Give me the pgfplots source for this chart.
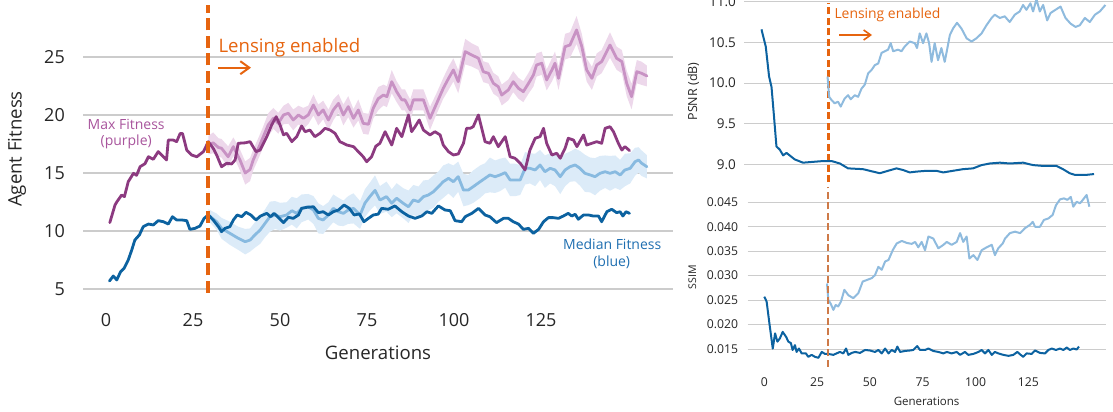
\documentclass[border=0pt]{standalone}
\usepackage{pgfplots}
\pgfplotsset{compat=1.18}
\usepackage{pgfplotstable}
\usepgfplotslibrary{fillbetween}
\usetikzlibrary{arrows.meta}
\usepackage{fontspec}
\setmainfont{Open Sans}

\definecolor{maxd}{RGB}{140,58,128}
\definecolor{maxl}{RGB}{200,146,196}
\definecolor{maxband}{RGB}{237,216,235}
\definecolor{medd}{RGB}{12,98,160}
\definecolor{medl}{RGB}{136,186,224}
\definecolor{medband}{RGB}{220,235,248}
\definecolor{rlight}{RGB}{143,187,222}
\definecolor{orng}{RGB}{230,100,15}
\definecolor{orngc}{RGB}{206,122,72}
\definecolor{gridc}{RGB}{204,204,204}
\definecolor{txt}{RGB}{38,38,38}
\definecolor{maxlab}{RGB}{168,84,156}
\definecolor{medlab}{RGB}{30,110,176}

\pgfplotstableread{
g v
1.1 10.72
2.6 12.24
3.1 12.5
4.5 13.1
5.3 12.96
6.4 14.25
7.9 14.97
8.8 14.8
9.8 15.54
11.2 15.8
12.2 16.4
13.6 16.18
15 16.84
16.5 16.4
17.4 16.12
17.9 17.84
19.3 17.84
20.3 17.7
21.3 18.4
22 18.4
23.2 16.98
24.6 16.55
26.1 16.4
28 16.84
29.4 17.7
30.8 17.13
31.8 16.55
33.2 15.54
34.7 15.84
36.1 15.78
37.1 16.12
38 17.56
40 17.6
41.4 17.7
43.1 16.84
44.3 16.98
46.2 18.13
47.6 19.14
48.9 19.85
50 19.14
51 18.28
51.9 18.42
53.4 17.7
54.8 18.13
56.2 19.05
57.2 18.56
58.6 18.7
60 18.13
61.5 18.42
62.9 18.85
64.4 18.7
65.8 18.42
67.2 17.7
69.2 17.41
71.1 17.27
72.5 16.84
73.9 16.4
74.9 15.97
76.3 16.4
77.5 17.3
78.7 17.56
80.2 18.56
82.1 17.41
83.5 18.85
85 18.13
86.9 20
87.8 18.56
88.8 18.99
90 19.57
91.2 18.7
93.1 18.28
94.5 18.56
96 18.28
96.9 17.41
98.4 16.84
99.8 16.55
101.2 16.64
102.7 17.56
103.6 18.85
104.6 18.85
105.5 18.99
107 20
108.9 17.7
110.3 17.56
111.3 18.13
112.7 17.27
114.7 18.13
116.1 16.4
117.5 16.27
119 15.84
120.4 15.26
121.8 16.98
123.3 17.99
124.7 18.13
125.7 18.85
126.6 17.56
128.1 16.55
129.5 16.7
130.5 16.27
131.9 17.13
132.8 17.99
134.3 17.84
135.3 17.27
137.2 18.28
138.1 17.41
139.6 17.56
141 17.7
142.4 17.56
143.4 18.85
144.8 18.99
145.8 18.56
147.2 17.56
148.2 16.98
149.1 17.27
150.4 16.93
}\maxdark

\pgfplotstableread{
g v e
29.4 17.4 0.8
30.8 17.6 0.9
32.3 17.2 0.8
33.2 17.13 0.8
35.1 16.4 0.9
36.6 17.27 0.8
38.5 16.12 0.9
40 15.0 1.0
41.4 15.3 1.0
42.3 16.12 0.9
43.8 17.13 0.9
45.2 18.13 0.9
46.6 19.14 1.0
48.1 19.71 0.9
49.5 19.28 0.9
51 20 0.8
52.4 20.15 0.9
53.8 19.57 0.9
55.3 20 0.8
56.7 19.71 0.9
58.1 20 0.8
59.6 20.86 0.9
61 20 0.9
62.4 20.43 0.8
63.9 19.57 0.9
65.3 20.43 0.9
66.8 21 0.8
68.2 20 0.9
69.6 20.72 0.9
71.1 19.71 0.8
72.5 20.43 0.9
73.9 19.28 0.9
75.4 19.2 0.9
76.8 20.6 0.9
78.2 21.4 1.0
79.7 21.72 0.9
80.7 21.58 0.9
82.1 22.87 1.0
83.5 22.01 0.9
85 21.3 0.9
85.9 21.3 0.9
87.4 20.43 0.9
88.3 21.3 0.9
89.8 21.3 0.9
91.2 21.3 0.9
93.1 19.71 1.0
95 21 0.9
96.9 22.3 0.9
98.5 23.2 1.0
99.8 23.88 1.0
101.2 22.87 1.0
103.2 25.46 1.1
105.1 25.17 1.0
107 24.89 1.0
108.4 23.73 0.9
109.9 23.59 0.9
111.3 22.73 0.9
112.7 22.44 0.9
113.7 21.72 0.9
115.6 22.16 0.9
117 22.87 0.9
118.5 22.3 0.9
119.9 22.01 0.9
121.4 22.73 0.9
122.8 23.45 1.0
123.7 24.31 1.0
125.2 24.46 1.0
126.6 23.02 0.9
128.1 23.88 1.0
129 24.46 1.0
130 23.16 1.0
131.9 25.89 1.1
133.3 26.03 1.1
135.2 27.33 1.2
136.7 25.89 1.1
138.1 23.88 1.0
139.6 23.16 1.0
141 24.31 1.0
142.4 24.6 1.0
144.8 26.03 1.1
146.7 24.89 1.0
148.2 24.6 1.0
149.6 22.73 1.1
151 21.58 1.1
152.5 23.73 1.0
153.9 23.59 1.0
155.4 23.36 0.9
}\maxlens

\pgfplotstableread{
g v
1 5.69
2.1 6.12
3.1 5.78
4.2 6.49
5.2 6.78
6.4 7.5
7.4 8.36
8.3 9.22
9.6 9.66
10.7 10.37
12.2 10.6
13.6 10.52
15 10.89
16.5 10.8
17.9 10.6
19.1 11.23
20.3 10.95
21.8 10.95
23.2 10.89
24.1 10.14
25.6 10.23
27 10.43
28.2 11.09
29.4 11.38
30.8 10.95
32.3 10.37
33.2 9.94
34.2 10.23
35.6 10.37
36.6 10.95
37.7 11.38
39 11.23
40.2 11.61
41.6 11.38
43.1 10.95
44.4 11.29
46.2 11.52
47.3 11.23
48.3 11.52
49.5 11.18
51 10.72
52.4 11.18
53.8 11.09
55.3 11.38
56.2 11.95
57.7 12.04
59.6 12.09
61 11.58
62.4 11.66
63.9 11.38
65.3 11.66
66.8 11.81
68.4 12.24
69.9 11.95
71.3 11.38
72.8 11.47
74.1 10.8
75.4 11.09
76.8 11.38
78.2 11.45
79.2 11.95
81.1 11.87
83 12.16
85 11.66
86.9 11.29
88.8 11.09
90.7 11.29
92.2 11.66
93.6 11.52
95.5 12.16
97.4 11.81
98.9 11.75
100.3 10.89
102.2 10.8
103.2 11.23
105.1 11.52
107 11.95
108.9 11.38
110.3 11.23
112.2 10.72
114.2 11.09
115.6 11.09
117 10.8
118.5 10.6
119.9 10.14
121.4 10.23
122.8 9.8
124.3 10.14
125.7 10.8
127.1 11.15
128.5 11.15
130 11.09
131.4 11.29
132.8 11.52
133.8 11.29
134.8 11.44
135.7 11.01
137.2 11.38
138.6 11.38
140 11.29
141.5 11.29
142.4 10.8
143.9 11.66
145.3 11.87
146.7 11.58
147.7 11.66
148.5 11.29
149.4 11.66
150.4 11.52
}\meddark

\pgfplotstableread{
g v e
29.4 11.38 0.5
31.8 10.8 0.7
33.2 10.23 0.9
35.6 9.8 1.0
38 9.37 1.0
40 9.08 1.1
41.4 9.22 1.0
42.8 9.66 1.1
44.3 10.09 1.2
45.7 10.66 1.2
47.1 11.23 1.3
48.6 11.38 1.2
50 11.23 1.2
51.9 11.38 1.1
53.4 11.75 1.2
54.8 11.52 1.3
56.2 11.95 1.2
58.1 12.09 1.1
59.6 11.81 1.2
61 11.09 1.3
62.4 10.95 1.2
63.9 11.38 1.1
65.3 11.95 1.2
66.8 11.66 1.2
68.2 11.52 1.1
69.6 11.81 1.2
71.1 11.95 1.3
73 11.38 1.2
74.4 12.4 1.2
75.9 13.0 1.2
77.3 13.5 1.3
78.7 12.67 1.2
80.6 12.96 1.3
82.1 12.39 1.2
83.5 12.82 1.3
85.4 12.39 1.3
86.9 12.09 1.4
88.3 12.67 1.3
89.8 12.53 1.3
91.2 12.96 1.4
92.6 13.1 1.3
94.1 13.39 1.4
95.5 13.82 1.3
96.9 14.25 1.4
98.4 14.54 1.3
99.8 14.25 1.4
101.2 14.68 1.3
102.7 13.53 1.4
104.1 13.53 1.3
105.5 13.82 1.4
107.5 14.25 1.4
108.9 14.54 1.3
110.3 14.83 1.5
111.8 14.68 1.4
113.2 14.83 1.4
114.7 15.03 1.3
116.1 14.4 1.4
117.5 14.4 1.4
119 14.4 1.3
120.4 15.4 1.4
121.8 15.4 1.3
123.3 15.26 1.4
124.7 15.69 1.3
126.1 15.11 1.4
127.6 15.4 1.3
129 15.26 1.4
130.5 14.68 1.5
131.9 15.26 1.4
133.3 15.54 1.3
134.8 15.69 1.4
136.2 15.4 1.5
137.6 14.97 1.6
139.1 14.83 1.5
140.5 14.68 1.6
141.9 14.97 1.5
143.4 15.11 1.4
144.8 14.97 1.5
146.3 15.11 1.4
147.7 14.83 1.3
149.1 15.26 1.4
150.6 15.4 1.3
152 15.97 1.2
153 16.12 1.1
153.9 15.84 1.1
155.4 15.54 1.0
}\medlens

\pgfplotstableread{
g v
0 10.66
1.9 10.45
3.4 10.08
4.5 9.95
5.6 9.59
6.7 9.22
8.2 9.18
9.7 9.11
11.2 9.14
12.6 9.11
14.9 9.06
18.6 9.02
23.1 9.03
27.6 9.04
31.4 9.04
35.1 9.01
38.8 8.95
45.5 8.94
50 8.91
53 8.89
56.7 8.92
60.5 8.95
63.4 8.93
66.4 8.9
69.4 8.91
73.9 8.92
78.4 8.92
81.4 8.9
85.8 8.92
90.3 8.94
94.8 8.95
98.6 8.99
102.3 9.01
106.8 9.02
111.2 9.01
117.2 9.02
121.7 8.99
126.2 8.98
132.2 8.98
135.1 8.94
138.1 8.89
140.4 8.87
142.6 8.87
145.6 8.87
149 8.88
}\psnrdark

\pgfplotstableread{
g v
29.6 10.08
30.3 9.83
31.4 9.79
32.8 9.75
34.3 9.77
35.5 9.71
37.3 9.81
38.8 9.85
40 9.8
41.8 9.85
43.3 9.83
44.8 9.93
46.3 9.98
47.8 10.12
49.3 10.16
50.8 10.22
52.3 10.24
53.8 10.37
55.2 10.39
56.7 10.41
57.9 10.49
59 10.39
61.2 10.41
62.7 10.39
64.2 10.45
66.4 10.51
68.7 10.49
69.7 10.43
70.9 10.61
72.4 10.49
73.9 10.61
75.1 10.49
76.2 10.26
77.6 10.49
79.1 10.28
80.6 10.43
82.1 10.26
83.3 10.43
84.4 10.59
85.8 10.67
87.6 10.74
89.6 10.67
91.9 10.55
94.1 10.51
96.3 10.55
98.6 10.61
100.8 10.71
103.1 10.8
104.5 10.84
106.8 10.8
109 10.82
111.2 10.75
113.5 10.84
115.7 10.88
117.2 10.96
118.7 10.9
120.5 10.98
121.7 10.88
123.2 11.03
124.7 10.88
126.2 10.96
128 10.77
129.5 10.86
131.7 10.9
134 10.94
136.2 10.8
138.5 10.73
140.7 10.69
142.6 10.71
144.9 10.8
147.1 10.75
149.4 10.84
151.6 10.88
154.1 10.96
}\psnrlens

\pgfplotstableread{
g v
0 0.0257
1.1 0.0247
2.4 0.0203
4 0.0151
5.1 0.0182
6.2 0.0165
7.4 0.0172
8.7 0.0185
10.3 0.0175
11.4 0.0165
12.6 0.0162
13.4 0.0148
14.5 0.0158
15.3 0.0144
16.4 0.0151
17.7 0.0141
19.7 0.0141
20.8 0.0134
22.4 0.0138
24 0.0134
25.6 0.0132
27.2 0.0144
28.7 0.014
30.3 0.014
32.7 0.0138
34.2 0.0141
35.8 0.0144
37.4 0.0141
38.7 0.0151
39.8 0.0138
41.4 0.0142
43 0.0144
45.3 0.0142
47.7 0.0148
50 0.0147
52.4 0.0144
54 0.0148
55.6 0.0141
57.2 0.0151
58.8 0.0141
60.3 0.0148
61.9 0.0144
63 0.0155
64.3 0.0144
66.6 0.0146
69 0.0147
70.5 0.0148
72.4 0.0156
73.7 0.0148
76.1 0.0148
77.7 0.0151
80 0.0146
82.4 0.0144
84.8 0.0141
86.4 0.0144
88.7 0.0141
91.1 0.0144
92.7 0.0138
95 0.0144
96.6 0.0138
99 0.014
101.4 0.0144
102.9 0.0148
104.5 0.0141
106.1 0.0148
107.7 0.0138
109.2 0.0144
110.8 0.0141
113.2 0.0138
115.6 0.0136
117.9 0.0138
119.8 0.0144
121.4 0.0138
122.6 0.0134
124.2 0.0141
126.6 0.014
128.2 0.0147
130.5 0.0142
132.9 0.0141
134.5 0.0148
136.1 0.0151
138.1 0.0148
140 0.0151
141.6 0.0148
143.2 0.0153
144.7 0.0148
146.3 0.0151
147.9 0.0149
149 0.0155
}\ssimdark

\pgfplotstableread{
g v
29.7 0.0284
30.3 0.025
31.4 0.0243
32.7 0.023
33.8 0.024
35 0.0237
36.3 0.0247
37.9 0.0271
39.8 0.026
42.1 0.0254
44.5 0.0264
46.6 0.0288
48.5 0.0291
50.9 0.0295
52.4 0.0301
54 0.0318
55.6 0.0312
57.2 0.0329
58.8 0.0332
60.8 0.0352
62.7 0.0366
65.1 0.0371
67.4 0.0367
69.8 0.0365
71.4 0.0369
72.9 0.0358
74.5 0.0369
76.1 0.0352
77.7 0.038
80 0.0376
82.4 0.0356
84.8 0.0363
86.4 0.0369
88.7 0.0363
91.1 0.0369
92.7 0.0387
94.2 0.0369
95.8 0.038
97.1 0.0335
99 0.0342
100.9 0.0332
102.9 0.0352
105.3 0.0358
107.7 0.0363
109.2 0.0342
110.8 0.0356
112.9 0.0366
114 0.0376
116.3 0.0387
118.7 0.039
121.1 0.0387
123.4 0.0397
125.8 0.0404
127.1 0.041
128.2 0.04
130.5 0.04
132.4 0.0414
134.5 0.0417
136.5 0.0424
138.1 0.0444
140 0.0456
141.9 0.0458
143.5 0.0455
145.1 0.0461
146.3 0.0441
147.9 0.0451
149.5 0.0448
151 0.0456
152.6 0.0465
153.9 0.0441
}\ssimlens

\begin{document}
\begin{tikzpicture}

% ---------------- left panel ----------------
\begin{axis}[
  scale only axis, width=590bp, height=288bp,
  at={(83bp,119bp)}, anchor=south west,
  xmin=-6.6, xmax=162.9, ymin=4.655, ymax=29.48,
  axis line style={draw=none}, tick style={draw=none},
  ymajorgrids, grid style={gridc, line width=1.2bp},
  xtick={0,25,50,75,100,125}, ytick={5,10,15,20,25},
  /pgf/number format/assume math mode=true,
  ticklabel style={font=\fontsize{18bp}{21bp}\selectfont, text=txt, inner sep=0pt},
  xticklabel style={yshift=-20bp},
  yticklabel style={xshift=-18bp},
  xlabel={Generations},
  xlabel style={font=\fontsize{18.6bp}{22bp}\selectfont, text=txt, inner sep=0pt,
    at={(axis description cs:0.5,-0.2326)}, anchor=base},
  ylabel={Agent Fitness},
  ylabel style={font=\fontsize{18.6bp}{22bp}\selectfont, text=txt, inner sep=0pt,
    at={(axis description cs:-0.1041,0.5)}, anchor=base},
  line join=round, line cap=round,
]
\addplot[draw=none, name path=mu, forget plot] table[x=g, y expr=\thisrow{v}+\thisrow{e}]{\maxlens};
\addplot[draw=none, name path=ml, forget plot] table[x=g, y expr=\thisrow{v}-\thisrow{e}]{\maxlens};
\addplot[fill=maxband, draw=none, forget plot] fill between[of=mu and ml];
\addplot[draw=none, name path=bu, forget plot] table[x=g, y expr=\thisrow{v}+\thisrow{e}]{\medlens};
\addplot[draw=none, name path=bl, forget plot] table[x=g, y expr=\thisrow{v}-\thisrow{e}]{\medlens};
\addplot[fill=medband, draw=none, forget plot] fill between[of=bu and bl];
\addplot[maxl, line width=2.8bp] table[x=g, y=v]{\maxlens};
\addplot[medl, line width=2.8bp] table[x=g, y=v]{\medlens};
\addplot[maxd, line width=2.8bp] table[x=g, y=v]{\maxdark};
\addplot[medd, line width=2.8bp] table[x=g, y=v]{\meddark};
\addplot[orng, line width=3.4bp, dash pattern=on 12bp off 5.5bp, line cap=butt] coordinates {(29.3,4.655) (29.3,29.48)};
\end{axis}

\node[anchor=base west, inner sep=0pt, text=orng, font=\fontsize{18.6bp}{22bp}\selectfont] at (218.3bp,359.3bp) {Lensing enabled};
\draw[orng, line width=2bp, -{Straight Barb[length=9bp,width=13bp]}] (218bp,344.3bp) -- (251bp,344.3bp);
\node[anchor=base, inner sep=0pt, text=maxlab, font=\fontsize{14bp}{17bp}\selectfont] at (126.2bp,282.7bp) {Max Fitness};
\node[anchor=base, inner sep=0pt, text=maxlab, font=\fontsize{14bp}{17bp}\selectfont] at (126.2bp,266bp) {(purple)};
\node[anchor=base, inner sep=0pt, text=medlab, font=\fontsize{14bp}{17bp}\selectfont] at (612.2bp,162bp) {Median Fitness};
\node[anchor=base, inner sep=0pt, text=medlab, font=\fontsize{14bp}{17bp}\selectfont] at (611.7bp,145bp) {(blue)};

% ---------------- right top: PSNR ----------------
\begin{axis}[
  scale only axis, width=368.7bp, height=183bp,
  at={(744.3bp,229bp)}, anchor=south west,
  xmin=-7.7, xmax=157.5, ymin=8.77, ymax=11.021,
  axis line style={draw=none}, tick style={draw=none},
  ymajorgrids, grid style={gridc, line width=1bp},
  xtick=\empty, ytick={9,9.5,10,10.5,11},
  /pgf/number format/assume math mode=true,
  yticklabel style={font=\fontsize{13.5bp}{16bp}\selectfont, text=txt, inner sep=0pt, xshift=-8.3bp,
    /pgf/number format/fixed, /pgf/number format/fixed zerofill, /pgf/number format/precision=1},
  ylabel={PSNR (dB)},
  ylabel style={font=\fontsize{12.5bp}{15bp}\selectfont, text=txt, inner sep=0pt,
    at={(axis description cs:-0.128,0.5)}, anchor=base},
  line join=round,
]
\addplot[orng, line width=2.2bp, dash pattern=on 7bp off 3.5bp] coordinates {(30,8.78) (30,10.99)};
\addplot[rlight, line width=2bp] table[x=g, y=v]{\psnrlens};
\addplot[medd, line width=2bp] table[x=g, y=v]{\psnrdark};
\end{axis}
\node[anchor=base west, inner sep=0pt, text=orng, font=\fontsize{13.9bp}{16bp}\selectfont] at (834.3bp,393.7bp) {Lensing enabled};
\draw[orng, line width=1.6bp, -{Straight Barb[length=7bp,width=10bp]}] (839.3bp,377bp) -- (872bp,377bp);

% ---------------- right bottom: SSIM ----------------
\begin{axis}[
  scale only axis, width=357.8bp, height=180bp,
  at={(747.7bp,45bp)}, anchor=south west,
  xmin=-7.86, xmax=161.55, ymin=0.01132, ymax=0.04813,
  axis line style={draw=none}, tick style={draw=none},
  ymajorgrids, grid style={gridc, line width=1bp},
  xtick={0,25,50,75,100,125}, ytick={0.015,0.02,0.025,0.03,0.035,0.04,0.045},
  scaled y ticks=false,
  /pgf/number format/assume math mode=true,
  ticklabel style={font=\fontsize{12.2bp}{15bp}\selectfont, text=txt, inner sep=0pt},
  xticklabel style={yshift=-10.3bp},
  yticklabel style={xshift=-9.4bp,
    /pgf/number format/fixed, /pgf/number format/fixed zerofill, /pgf/number format/precision=3},
  xlabel={Generations},
  xlabel style={font=\fontsize{11.5bp}{14bp}\selectfont, text=txt, inner sep=0pt,
    at={(axis description cs:0.5,-0.214)}, anchor=base},
  ylabel={SSIM},
  ylabel style={font=\fontsize{10.6bp}{13bp}\selectfont, text=txt, inner sep=0pt,
    at={(axis description cs:-0.1445,0.5)}, anchor=base},
  line join=round,
]
\addplot[rlight, line width=2bp] table[x=g, y=v]{\ssimlens};
\addplot[medd, line width=2bp] table[x=g, y=v]{\ssimdark};
\addplot[orngc, line width=2.2bp, dash pattern=on 7bp off 3.5bp] coordinates {(30,0.01132) (30,0.04813)};
\end{axis}

\pgfresetboundingbox
\useasboundingbox (0,0) rectangle (1113bp,412bp);
\end{tikzpicture}
\end{document}
